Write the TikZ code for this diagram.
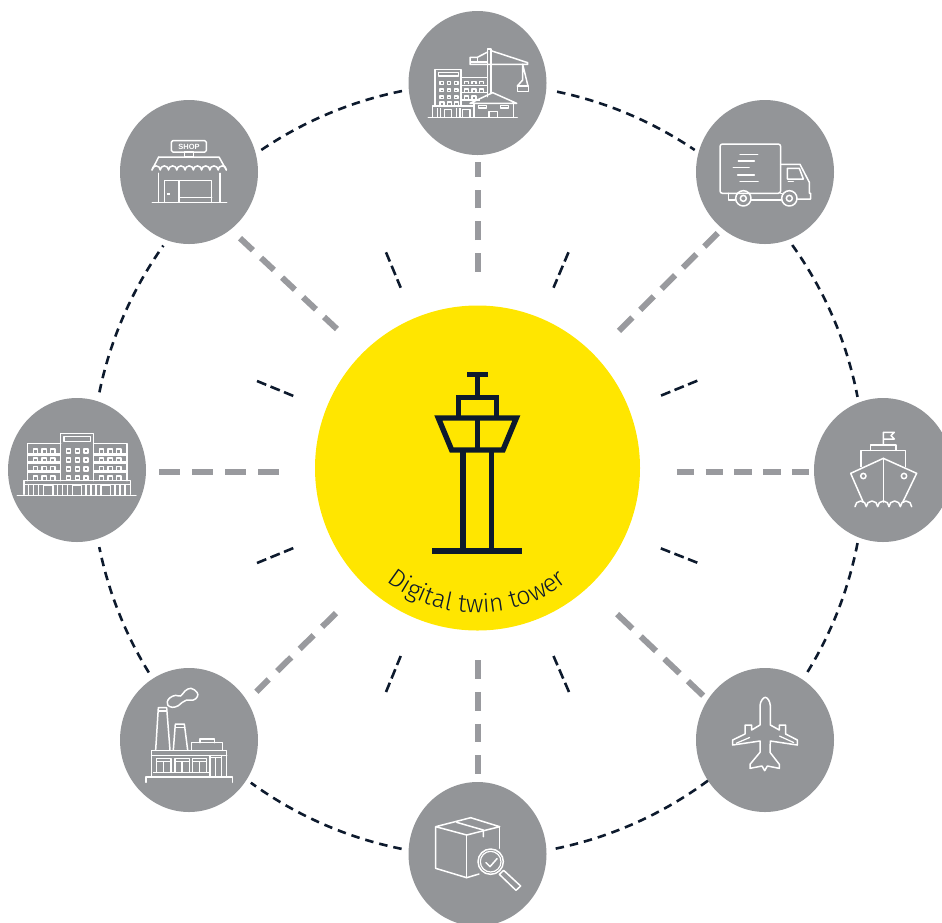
\documentclass[tikz,border=0pt]{standalone}
\usepackage{fontspec}
\setmainfont{Fira Sans Light}
\newfontfamily\shopfont{Liberation Sans}
\usetikzlibrary{decorations.text,shapes.geometric}
\definecolor{disc}{HTML}{939598}
\definecolor{spokegray}{HTML}{999A9E}
\definecolor{hubyellow}{HTML}{FFE600}
\definecolor{navy}{HTML}{0D1A2D}
\tikzset{
  roundel/.style={draw=none,fill=disc,ellipse,inner sep=0pt,minimum width=138pt,minimum height=144pt},
  spoke/.style={draw=spokegray,line width=6pt,dash pattern=on 17.6pt off 11.2pt},
  spokeshort/.style={draw=spokegray,line width=6pt,dash pattern=on 18.7pt off 13pt},
  ringline/.style={draw=navy,line width=2.6pt,dash pattern=on 8.5pt off 6pt},
  tick/.style={draw=navy,line width=2.6pt,dash pattern=on 10pt off 4.6pt},
  tower/.style={draw=navy,line width=5.4pt,line join=miter},
  icon/.style={draw=white,line width=1.5pt,line join=round,line cap=round},
  iconthin/.style={draw=white,line width=1.2pt,line join=round}
}
\newcommand{\ringarc}[3]{%
  \coordinate (#1a) at ({478+386.5*cos(#2)},{470+386.5*sin(#2)});
  \coordinate (#1b) at ({478+386.5*cos(#3)},{470+386.5*sin(#3)});
  \pgfmathsetmacro{\kk}{4/3*tan((#3-#2)/4)*386.5}
  \draw[ringline] (#1a) .. controls ({478+386.5*cos(#2)-\kk*sin(#2)},{470+386.5*sin(#2)+\kk*cos(#2)})
     and ({478+386.5*cos(#3)+\kk*sin(#3)},{470+386.5*sin(#3)-\kk*cos(#3)}) .. (#1b);
}
\newcommand{\tickline}[5]{%
  \coordinate (#1a) at (#2,#3);
  \coordinate (#1b) at (#4,#5);
  \draw[tick] (#1a) -- (#1b);
}
\begin{document}
\begin{tikzpicture}[x=1pt,y=-1pt]
\useasboundingbox (0,0) rectangle (942,922);
\clip (0,0) rectangle (942,922);
% hub and satellites
\node[circle,fill=hubyellow,inner sep=0pt,minimum size=325pt] (hub) at (477.5,468) {};
\node[roundel] (top) at (477.5,83) {};
\node[roundel] (tl) at (189,172) {};
\node[roundel] (tr) at (765,172) {};
\node[roundel] (lft) at (77,470) {};
\node[roundel] (rgt) at (883,470) {};
\node[roundel] (bl) at (189,740) {};
\node[roundel] (br) at (765,740) {};
\node[roundel] (bot) at (477.5,854) {};
% spokes
\draw[spokeshort,shorten <=33.5pt,shorten >=7pt] (hub.north) -- (top.south);
\draw[spokeshort,shorten <=29.5pt,shorten >=7pt] (hub.south) -- (bot.north);
\draw[spoke,shorten <=35pt,shorten >=11pt] (hub.135.3) -- (tl.306.4);
\draw[draw=spokegray,line width=6pt,dash pattern=on 19pt off 11pt,shorten <=34.3pt,shorten >=5pt] (hub.44.1) -- (tr.233);
\draw[draw=spokegray,line width=6pt,dash pattern=on 19.5pt off 12pt,shorten <=40pt,shorten >=13pt] (hub.226.6) -- (bl.34.5);
\draw[draw=spokegray,line width=6pt,dash pattern=on 21pt off 11.5pt,shorten <=39.5pt,shorten >=5.5pt] (hub.313.4) -- (br.145);
\draw[draw=spokegray,line width=6pt,dash pattern=on 21pt off 12pt,shorten <=36pt,shorten >=13pt] ([yshift=-4pt]hub.west) -- ([yshift=-2pt]lft.east);
\draw[spoke,shorten <=36.6pt,shorten >=5pt] ([yshift=-4pt]hub.east) -- ([yshift=-2pt]rgt.west);
% ring
\ringarc{ra}{-35.6}{-10.9}
\ringarc{rb}{10.9}{31.9}
\ringarc{rc}{53.5}{78.4}
\ringarc{rd}{101.4}{126}
\ringarc{re}{148.4}{168.5}
\ringarc{rf}{191.6}{215.5}
\ringarc{rg}{235.9}{259}
\ringarc{rh}{281.8}{304.1}
% ticks
\tickline{ta}{386}{252.3}{400.7}{287.7}
\tickline{tb}{568.5}{252.3}{553.5}{287.7}
\tickline{tc}{257}{381}{293.5}{396}
\tickline{td}{257}{563}{293.5}{548}
\tickline{te}{697.3}{380.7}{660.7}{395.7}
\tickline{tf}{697.3}{562.7}{660.7}{548.3}
\tickline{tg}{386}{692}{400.7}{656}
\tickline{th}{569}{692}{553.5}{656}
% tower
\begin{scope}[shift={(370,360)},scale=1/3]
\fill[navy] (290,37) rectangle (353,52);
\fill[navy] (186,565) rectangle (457,582);
\draw[tower] (322,45) -- (322,110);
\draw[tower] (265,174) -- (265,113) -- (379,113) -- (379,174);
\draw[tower] (205,174) -- (439,174) -- (399,270) -- (245,270) -- cycle;
\draw[tower] (322,174) -- (322,270);
\draw[tower] (279,270) -- (279,565);
\draw[tower] (364,270) -- (364,565);
\end{scope}
\path[decorate,decoration={text along path,text align=center,
  text={|\fontsize{25}{25}\selectfont\color{navy}|Digital twin tower}}]
  (351.4,540.5) .. controls (377.3,585.4) and (425.2,613) .. (477,613)
  .. controls (528.8,613) and (576.7,585.4) .. (602.6,540.5);
% construction
\begin{scope}[shift={(400,0)},scale=1/3]
\draw[icon] (263,290) -- (263,147) -- (273,147) -- (273,280);
\draw[icon] (273,152) -- (383,188) -- (383,193) -- (210,193) -- (210,172) -- (232,172) -- (263,156);
\draw[iconthin] (232,172) -- (232,190) (210,186) -- (263,186);
\draw[icon] (368,193) -- (368,240) -- (352,258) -- (384,258) -- cycle;
\draw[icon] (352,258) rectangle (386,275);
\draw[icon] (105,318) -- (105,208) -- (183,208) -- (183,318);
\draw[iconthin] (115,217) rectangle (175,228);
\foreach \yy in {245,267,288} \foreach \xx in {120,142,164} \draw[iconthin] (\xx,\yy) rectangle +(10,8);
\foreach \yy in {245,267} \foreach \xx in {194,216,238} \draw[iconthin] (\xx,\yy+8) -- (\xx,\yy) -- (\xx+12,\yy) -- (\xx+12,\yy+8);
\draw[iconthin] (194,296) -- (194,288) -- (206,288) -- (206,296) (216,296) -- (216,288) -- (228,288) -- (228,296);
\draw[iconthin] (183,232) -- (262,232) (183,256) -- (262,256) (183,278) -- (262,278) (183,300) -- (240,300);
\draw[iconthin] (120,316) -- (120,306) -- (132,306) -- (132,316) (142,316) -- (142,306) -- (154,306) -- (154,316) (164,316) -- (164,306) -- (176,306) -- (176,316);
\draw[icon] (97,350) -- (97,318) -- (218,318);
\draw[iconthin] (112,325) -- (112,350) (122,325) -- (122,350) (133,350) -- (133,328) -- (155,328) -- (155,350) (170,325) -- (170,350) (180,325) -- (180,350) (187,350) -- (187,328) -- (210,328) -- (210,350);
\draw[icon] (85,352) -- (352,352);
\draw[icon] (210,310) -- (278,278) -- (350,310) -- cycle;
\draw[icon] (222,310) -- (222,352) (340,310) -- (340,352);
\draw[iconthin] (236,316) rectangle (260,324) (302,316) rectangle (325,324) (267,352) -- (267,335) -- (293,335) -- (293,352);
\end{scope}
% shop
\begin{scope}[shift={(110,90)},scale=1/3]
\draw[icon,rounded corners=1.5pt] (184,152) rectangle (289,186);
\draw[icon] (224,186) rectangle (250,201);
\draw[icon] (146,201) -- (327,201) -- (349,240);
\draw[icon] (146,201) -- (126,240);
\draw[icon] (126,240) arc[start angle=180,end angle=360,radius=12.4]
  \foreach \i in {1,...,8} { arc[start angle=180,end angle=360,radius=12.4] };
\draw[icon] (146,250) -- (146,337) (330,250) -- (330,337) (127,338) -- (350,338);
\draw[icon] (163,337) -- (163,272) -- (305,272) -- (305,337) (207,272) -- (207,337) (207,322) -- (305,322);
\fill[white] (172,309) rectangle (180,314);
\end{scope}
\node[text=white,inner sep=0pt,font=\shopfont\bfseries\fontsize{7.5}{7.5}\selectfont] (shoplabel) at (189,146.5) {SHOP};
% truck
\begin{scope}[shift={(690,95)},scale=1/3]
\draw[icon,rounded corners=2.5pt] (90,147) rectangle (272,295);
\draw[icon] (150,178) -- (203,178) (145,198) -- (193,198) (130,218) -- (177,218) (143,240) -- (193,240) (150,260) -- (204,260);
\draw[icon] (272,208) -- (330,208) -- (358,262) -- (358,295) -- (362,295) -- (362,312) -- (322,312);
\draw[icon] (115,295) -- (115,315) -- (135,315) (184,315) -- (274,315);
\draw[icon] (272,295) -- (276,295);
\draw[icon] (160,310) circle[radius=23] (160,310) circle[radius=9];
\draw[icon] (298,310) circle[radius=23] (298,310) circle[radius=9];
\draw[icon] (292,220) -- (328,220) -- (340,252) -- (292,252) -- cycle;
\draw[icon] (295,260) -- (310,260);
\end{scope}
% big building
\begin{scope}[shift={(0,395)},scale=1/3]
\draw[icon] (182,257) -- (182,116) -- (281,116) -- (281,257);
\draw[iconthin] (192,125) rectangle (272,139);
\foreach \yy in {162,189,216,243} \foreach \xx in {199,226,252} \draw[iconthin] (\xx,\yy) rectangle +(12,12);
\draw[icon] (182,146) -- (82,146) -- (82,257) (281,146) -- (381,146) -- (381,257);
\foreach \yy in {175,201,228} {\draw[iconthin] (82,\yy) -- (182,\yy) (82,\yy+5) -- (182,\yy+5) (281,\yy) -- (384,\yy) (281,\yy+5) -- (384,\yy+5);}
\foreach \yy in {162,189,215,243} \foreach \xx in {100,126,152,298,324,350} \draw[iconthin] (\xx,\yy+11) -- (\xx,\yy) -- (\xx+13,\yy) -- (\xx+13,\yy+11);
\draw[icon] (72,298) -- (72,257) -- (392,257) -- (392,298);
\draw[iconthin] (72,268) -- (392,268);
\foreach \xx in {85,100,115,172,187,202,258,273,288,345,360,375} \draw[icon] (\xx,270) -- (\xx,299);
\foreach \xx in {131,217,303} \draw[iconthin] (\xx,300) -- (\xx,272) -- (\xx+28,272) -- (\xx+28,300);
\draw[icon] (52,301) -- (408,301);
\end{scope}
% ship
\begin{scope}[shift={(810,395)},scale=1/3]
\draw[icon] (160,322) -- (122,235) -- (220,190) -- (320,235) -- (278,322);
\draw[icon] (220,190) -- (220,322);
\draw[icon] (160,243) circle[radius=8] (282,243) circle[radius=8];
\draw[icon] (153,215) -- (153,166) -- (287,166) -- (287,215);
\draw[icon] (182,166) -- (182,150) -- (258,150) -- (258,166);
\draw[icon] (220,150) -- (220,112) -- (253,112) -- (243,122) -- (253,132) -- (220,132);
\draw[icon] (135,335) arc[start angle=180,end angle=360,radius=17]
  \foreach \i in {1,...,4} { arc[start angle=180,end angle=360,radius=17] };
\end{scope}
% factory
\begin{scope}[shift={(115,665)},scale=1/3]
\draw[icon] plot[smooth cycle,tension=.7] coordinates {(157,110) (165,98) (182,91) (197,93) (210,78) (228,70) (246,82) (247,95) (235,105) (215,105) (202,112) (190,122) (172,127) (158,120)};
\draw[icon] (122,255) -- (130,128) -- (155,128) -- (165,255);
\draw[iconthin] (130,138) -- (155,138);
\draw[icon] (175,255) -- (181,177) -- (208,177) -- (218,255);
\draw[iconthin] (180,187) -- (209,187);
\draw[icon] (230,256) -- (230,233) -- (322,233) -- (322,256);
\draw[icon] (255,233) -- (255,222) -- (298,222) -- (298,233);
\draw[icon] (110,336) -- (110,256) -- (335,256) -- (335,336);
\draw[icon] (110,272) -- (335,272);
\foreach \xx in {125,180,232} {\draw[iconthin] (\xx,322) rectangle (\xx+43,280) (\xx,290) -- (\xx+43,290) (\xx+21,290) -- (\xx+21,322);}
\draw[iconthin] (285,333) -- (285,272) (320,333) -- (320,272) (302,278) -- (302,333) (285,278) -- (320,278);
\draw[iconthin] (115,322) -- (285,322);
\draw[icon] (93,352) -- (93,336) -- (352,336) -- (352,352);
\end{scope}
% plane
\begin{scope}[shift={(690,665)},scale=1/3]
\draw[icon] (210,180) -- (210,122) .. controls (211,108) and (220,97) .. (226,97) .. controls (232,97) and (240,108) .. (241,122) -- (241,180) -- (268,195) -- (268,180) -- (287,180) -- (287,207) -- (322,225) -- (322,240) -- (241,228) -- (240,262) -- (268,298) -- (268,310) -- (232,303) -- (224,317) -- (216,303) -- (180,310) -- (180,298) -- (210,262) -- (210,228) -- (128,240) -- (128,225) -- (165,207) -- (165,180) -- (185,180) -- (185,195) -- cycle;
\draw[iconthin] (138,235) -- (180,217) (268,213) -- (312,233);
\end{scope}
% parcel
\begin{scope}[shift={(405,780)},scale=1/3]
\draw[icon] (222,282) -- (185,293) -- (92,265) -- (92,140) -- (197,113) -- (284,140) -- (185,165) -- (92,140);
\draw[icon] (185,165) -- (185,293);
\draw[icon] (284,140) -- (284,205);
\draw[icon] (155,127) -- (235,150) -- (235,170);
\draw[icon] (257,245) circle[radius=38];
\draw[iconthin] (257,245) circle[radius=31];
\draw[icon] (243,248) -- (255,260) -- (276,236);
\draw[icon] (283,283) -- (296,271) -- (347,318) -- (333,331) -- cycle;
\end{scope}
\end{tikzpicture}
\end{document}
